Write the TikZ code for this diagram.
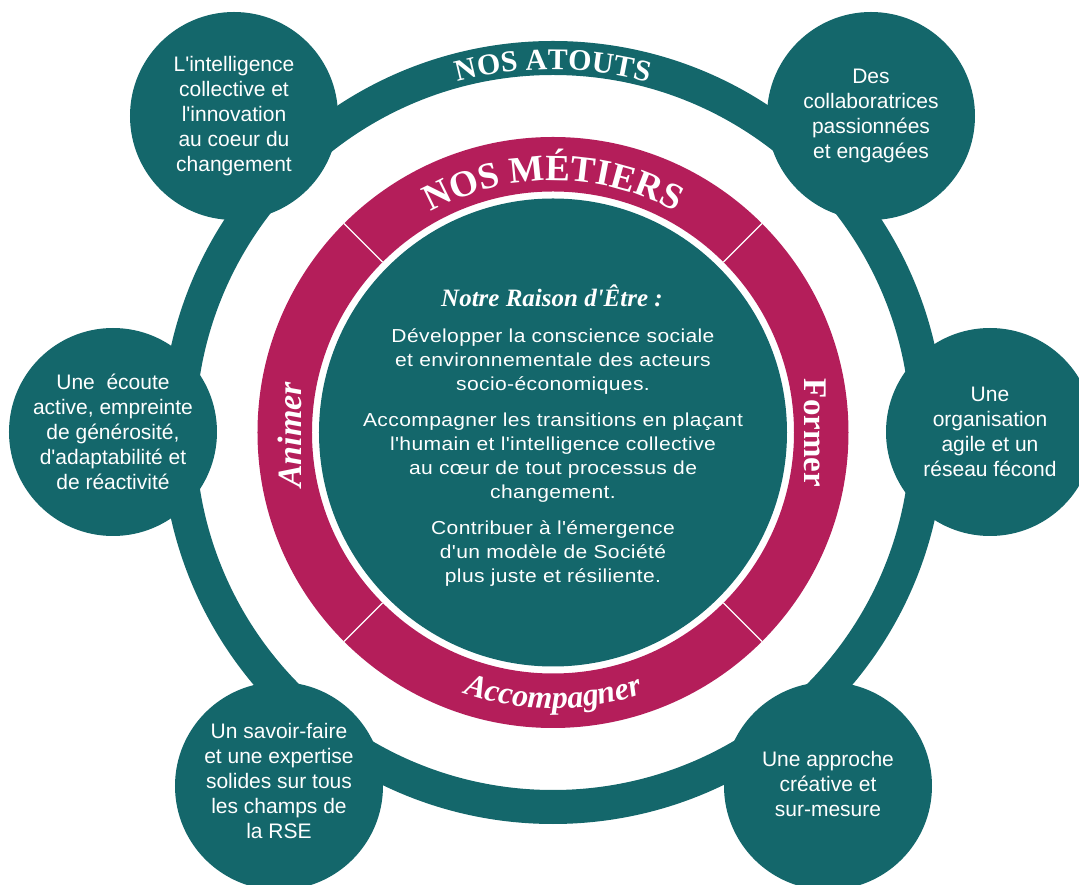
\documentclass[tikz,border=0pt]{standalone}
\usepackage{fontspec}
\usetikzlibrary{decorations.text,calc}
\setmainfont{Liberation Sans}
\newfontfamily\circfont{Liberation Sans}
\newfontfamily\condfont[FakeStretch=1.12,LetterSpace=2]{Liberation Sans}
\newfontfamily\headfont{Liberation Serif}
\definecolor{tealc}{RGB}{20,103,107}
\definecolor{magc}{RGB}{180,30,90}
\tikzset{
  bubble/.style={circle, fill=tealc, minimum size=208pt, inner sep=0pt},
  bubbletext/.style={text=white, align=center, font=\circfont\fontsize{21}{25}\selectfont, inner sep=0pt},
  bodytext/.style={text=white, align=center, font=\condfont\fontsize{18.8}{24}\selectfont, inner sep=0pt},
  divider/.style={white, line width=1.3pt},
}
\begin{document}
\begin{tikzpicture}[x=1pt,y=1pt]
\useasboundingbox (-553,-452.5) rectangle (526,432.5);
\clip (-553,-452.5) rectangle (526,432.5);
% outer ring
\draw[tealc, line width=34pt] (0,0) circle (374.5);
% bubbles
\node[bubble] (c1) at (-319,316.5) {};
\node[bubble] (c2) at (318,316.5) {};
\node[bubble] (c3) at (-440,0.5) {};
\node[bubble] (c4) at (437,0.5) {};
\node[bubble] (c5) at (-274,-353.5) {};
\node[bubble] (c6) at (275,-353.5) {};
\node[bubbletext] (t1) at (c1) {L'intelligence\\collective et\\l'innovation\\au coeur du\\changement};
\node[bubbletext] (t2) at (c2) {Des\\collaboratrices\\passionnées\\et engagées};
\node[bubbletext] (t3) at (c3) {Une~ écoute\\active, empreinte\\de générosité,\\d'adaptabilité et\\de réactivité};
\node[bubbletext] (t4) at (c4) {Une\\organisation\\agile et un\\réseau fécond};
\node[bubbletext] (t5) at ($(c5)+(0,5)$) {Un savoir-faire\\et une expertise\\solides sur tous\\les champs de\\la RSE};
\node[bubbletext] (t6) at ($(c6)+(0,2)$) {Une approche\\créative et\\sur-mesure};
% magenta ring
\fill[magc, even odd rule] (0,0) circle (295.5) (0,0) circle (241);
\foreach \a in {45,135,225,315} \draw[divider] (\a:241) -- (\a:295.5);
% inner disk
\fill[tealc] (0,0) circle (234);
% curved titles
\path[decorate, decoration={text along path, text align=center,
  text={|\headfont\bfseries\fontsize{30}{30}\selectfont\color{white}|NOS ATOUTS}}]
  (-363,0) arc[start angle=180, end angle=0, radius=363];
\path[decorate, decoration={text along path, text align=center,
  text={|\headfont\bfseries\fontsize{37}{37}\selectfont\color{white}|NOS MÉTIERS}}]
  (-252,0) arc[start angle=180, end angle=0, radius=252];
\path[decorate, decoration={text along path, text align=center,
  text={|\headfont\bfseries\itshape\fontsize{32}{32}\selectfont\color{white}|Accompagner}}]
  (-276,0) arc[start angle=180, end angle=360, radius=276];
\node[text=white, rotate=90, font=\headfont\bfseries\itshape\fontsize{34}{34}\selectfont] (anim) at (-263,-2.5) {Animer};
\node[text=white, rotate=-90, font=\headfont\bfseries\fontsize{33}{33}\selectfont] (form) at (262,-0.5) {Former};
% centre text
\node[text=white, font=\headfont\bfseries\itshape\fontsize{25}{25}\selectfont] (title) at (-1,136.5) {Notre Raison d'Être :};
\node[bodytext] (p1) at (0,70.5) {Développer la conscience sociale\\et environnementale des acteurs\\socio-économiques.};
\node[bodytext] (p2) at (0,-25) {Accompagner les transitions en plaçant\\l'humain et l'intelligence collective\\au cœur de tout processus de\\changement.};
\node[bodytext] (p3) at (0,-121.5) {Contribuer à l'émergence\\d'un modèle de Société\\plus juste et résiliente.};
\end{tikzpicture}
\end{document}
